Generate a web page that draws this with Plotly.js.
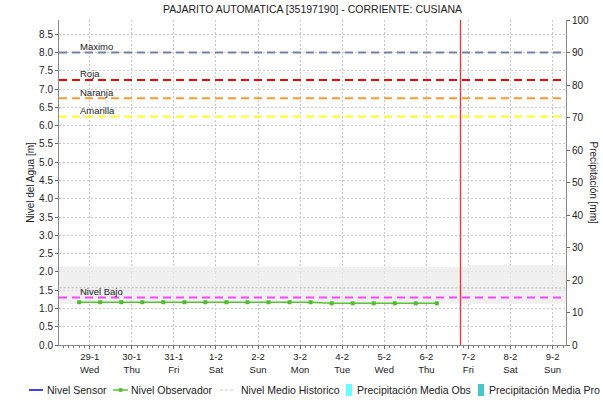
<!DOCTYPE html>
<html>
<head>
<meta charset="utf-8">
<script src="https://cdn.plot.ly/plotly-3.0.1.min.js"></script>
<style>html,body{margin:0;padding:0;background:#fff;}#chart{width:603px;height:403px;}</style>
</head>
<body>
<div id="chart"></div>
<script>
// ---------------- DATA ----------------
var chartTitle = "PAJARITO AUTOMATICA [35197190] - CORRIENTE: CUSIANA";
var dayTickDates = ["2025-01-29","2025-01-30","2025-01-31","2025-02-01","2025-02-02","2025-02-03","2025-02-04","2025-02-05","2025-02-06","2025-02-07","2025-02-08","2025-02-09"];
var dayTickDates2 = ["29-1","30-1","31-1","1-2","2-2","3-2","4-2","5-2","6-2","7-2","8-2","9-2"];
var dayTickNames = ["Wed","Thu","Fri","Sat","Sun","Mon","Tue","Wed","Thu","Fri","Sat","Sun"];
var xRange = ["2025-01-28 06:30","2025-02-09 07:40"];
var currentTime = "2025-02-06 19:30";

var obsDates = ["2025-01-28 18:00","2025-01-29 06:00","2025-01-29 18:00","2025-01-30 06:00","2025-01-30 18:00","2025-01-31 06:00","2025-01-31 18:00","2025-02-01 06:00","2025-02-01 18:00","2025-02-02 06:00","2025-02-02 18:00","2025-02-03 06:00","2025-02-03 18:00","2025-02-04 06:00","2025-02-04 18:00","2025-02-05 06:00","2025-02-05 18:00","2025-02-06 06:00"];
var obsLevels = [1.17,1.17,1.17,1.17,1.17,1.17,1.17,1.17,1.17,1.17,1.17,1.17,1.14,1.14,1.14,1.14,1.14,1.14];

var sensorDates = [];
var sensorLevels = [];

var histDates = ["2025-01-28","2025-01-29","2025-01-30","2025-01-31","2025-02-01","2025-02-02","2025-02-03","2025-02-03 12:00","2025-02-04","2025-02-05","2025-02-06","2025-02-07","2025-02-08","2025-02-09","2025-02-10"];
var histUpper = [2.15,2.15,2.15,2.15,2.15,2.15,2.15,2.13,2.13,2.13,2.13,2.18,2.18,2.18,2.18];
var histLower = [1.13,1.13,1.13,1.13,1.13,1.13,1.13,1.13,1.13,1.13,1.13,1.13,1.13,1.13,1.13];
var histMean  = [1.57,1.57,1.57,1.57,1.57,1.57,1.57,1.56,1.56,1.56,1.56,1.56,1.56,1.56,1.56];

var precipObsDates = [];
var precipObs = [];
var precipProDates = [];
var precipPro = [];

var thresholdNames  = ["Maximo","Roja","Naranja","Amarilla","Nivel Bajo"];
var thresholdValues = [8.0, 7.25, 6.75, 6.25, 1.30];
var thresholdColors = ["#7480a8","#ff0000","#ff9a2e","#ffff1a","#ff44ff"];

var legendNames = ["Nivel Sensor","Nivel Observador","Nivel Medio Historico","Precipitación Media Obs","Precipitación Media Pro"];
var levelTicks = [0,0.5,1,1.5,2,2.5,3,3.5,4,4.5,5,5.5,6,6.5,7,7.5,8,8.5];
var precipTicks = [0,10,20,30,40,50,60,70,80,90,100];

// ---------------- STYLE / LAYOUT ----------------
var FONT = "Liberation Sans, Arial, sans-serif";
var W = 603, H = 403, ML = 59, MR = 37, MT = 20, MB = 58;
var PW = W - ML - MR, PH = H - MT - MB;
function px(x){ return (x - ML) / PW; }
function py(y){ return (H - MB - y) / PH; }

var levelMax = 8.0 * 100 / 90;

var traces = [
  {x: histDates, y: histLower, type: "scatter", mode: "lines", line: {width: 0, shape: "hv"}, hoverinfo: "skip", showlegend: false},
  {x: histDates, y: histUpper, type: "scatter", mode: "lines", line: {width: 0, shape: "hv"}, fill: "tonexty", fillcolor: "rgba(235,235,235,0.75)", hoverinfo: "skip", showlegend: false},
  {x: histDates, y: histMean, type: "scatter", mode: "lines", name: legendNames[2], line: {color: "#c4c4c4", width: 1.2, dash: "2px,2px", shape: "hv"}, showlegend: false},
  {x: sensorDates, y: sensorLevels, type: "scatter", mode: "lines", name: legendNames[0], line: {color: "#0000ff", width: 1.5}, showlegend: false},
  {x: obsDates, y: obsLevels, type: "scatter", mode: "lines+markers", name: legendNames[1], line: {color: "#5cc23a", width: 1.5}, marker: {symbol: "square", size: 4, color: "#4cbf2a"}, showlegend: false},
  {x: precipObsDates, y: precipObs, type: "bar", yaxis: "y2", name: legendNames[3], marker: {color: "#66ffff"}, showlegend: false},
  {x: precipProDates, y: precipPro, type: "bar", yaxis: "y2", name: legendNames[4], marker: {color: "#44c8c8"}, showlegend: false}
];

var shapes = [];
var annotations = [];
for (var i = 0; i < thresholdValues.length; i++) {
  shapes.push({type: "line", xref: "paper", yref: "y", x0: 0, x1: 1, y0: thresholdValues[i], y1: thresholdValues[i],
               line: {color: thresholdColors[i], width: 2, dash: "8px,5px"}, layer: "above"});
  annotations.push({xref: "paper", yref: "y", x: px(78), y: thresholdValues[i], xanchor: "left", yanchor: "bottom", yshift: -1.5,
                    text: thresholdNames[i], showarrow: false, font: {family: FONT, size: 9.5, color: "#222"}});
}
shapes.push({type: "line", xref: "x", yref: "paper", x0: currentTime, x1: currentTime, y0: 0, y1: 1, line: {color: "#ff2a2a", width: 1.3}, layer: "above"});

// custom one-row legend (matches the compact overflowing legend of the reference)
var LY = py(390);
var legFont = {family: FONT, size: 10.5, color: "#222"};
shapes.push({type: "line", xref: "paper", yref: "paper", x0: px(29), x1: px(43), y0: LY, y1: LY, line: {color: "#0000ff", width: 1.5}});
shapes.push({type: "line", xref: "paper", yref: "paper", x0: px(113), x1: px(128), y0: LY, y1: LY, line: {color: "#5cc23a", width: 1.5}});
shapes.push({type: "rect", xref: "paper", yref: "paper", x0: px(119), x1: px(122.5), y0: py(391.8), y1: py(388.2), fillcolor: "#4cbf2a", line: {width: 0}});
shapes.push({type: "line", xref: "paper", yref: "paper", x0: px(220), x1: px(235), y0: LY, y1: LY, line: {color: "#c8c8c8", width: 1.2, dash: "3px,2px"}});
shapes.push({type: "rect", xref: "paper", yref: "paper", x0: px(346), x1: px(352), y0: py(396), y1: py(384), fillcolor: "#66ffff", line: {width: 0}});
shapes.push({type: "rect", xref: "paper", yref: "paper", x0: px(478), x1: px(484), y0: py(396), y1: py(384), fillcolor: "#44c8c8", line: {width: 0}});
var legTextX = [46, 130, 240, 356, 488];
for (var j = 0; j < legendNames.length; j++) {
  annotations.push({xref: "paper", yref: "paper", x: px(legTextX[j]), y: LY, xanchor: "left", yanchor: "middle",
                    text: legendNames[j], showarrow: false, font: legFont, borderpad: 0});
}
// right axis title (reads top to bottom)
annotations.push({xref: "paper", yref: "paper", x: px(593), y: 0.5, xanchor: "center", yanchor: "middle", text: "Precipitación [mm]", textangle: 90, showarrow: false,
                  font: {family: FONT, size: 10, color: "#222"}});

var tickText = dayTickDates2.map(function(d, k){ return d + "<br>" + dayTickNames[k]; });

var layout = {
  width: W, height: H,
  margin: {l: ML, r: MR, t: MT, b: MB, pad: 0},
  paper_bgcolor: "#ffffff", plot_bgcolor: "#ffffff",
  font: {family: FONT, size: 10, color: "#222"},
  showlegend: false,
  title: {text: chartTitle, font: {family: FONT, size: 10.5, color: "#222"}, x: 0.5, xref: "paper", y: 0.978, yanchor: "middle"},
  xaxis: {
    type: "date", range: xRange,
    tickvals: dayTickDates, ticktext: tickText,
    tickfont: {family: FONT, size: 9.5, color: "#222"},
    showgrid: true, gridcolor: "#c8c8c8", griddash: "2px,2px", gridwidth: 1,
    showline: true, linecolor: "#888", linewidth: 1,
    ticks: "outside", ticklen: 3, tickcolor: "#666",
    minor: {dtick: 3 * 3600000, ticks: "outside", ticklen: 2, tickcolor: "#777", showgrid: false},
    zeroline: false, fixedrange: true
  },
  yaxis: {
    range: [0, levelMax], tickvals: levelTicks, tickformat: ".1f",
    tickfont: {family: FONT, size: 10, color: "#222"},
    title: {text: "Nivel del Agua [m]", font: {family: FONT, size: 10, color: "#222"}, standoff: 2},
    showgrid: true, gridcolor: "#c8c8c8", griddash: "2px,2px", gridwidth: 1,
    showline: true, linecolor: "#888", linewidth: 1,
    ticks: "outside", ticklen: 3, tickcolor: "#666",
    zeroline: false, fixedrange: true
  },
  yaxis2: {
    overlaying: "y", side: "right", range: [0, 100], tickvals: precipTicks,
    tickfont: {family: FONT, size: 10, color: "#222"},
    showgrid: false, showline: true, linecolor: "#888", linewidth: 1,
    ticks: "outside", ticklen: 3, tickcolor: "#666",
    zeroline: false, fixedrange: true
  },
  shapes: shapes,
  annotations: annotations
};

Plotly.newPlot("chart", traces, layout, {displayModeBar: false, staticPlot: true});
</script>
</body>
</html>
